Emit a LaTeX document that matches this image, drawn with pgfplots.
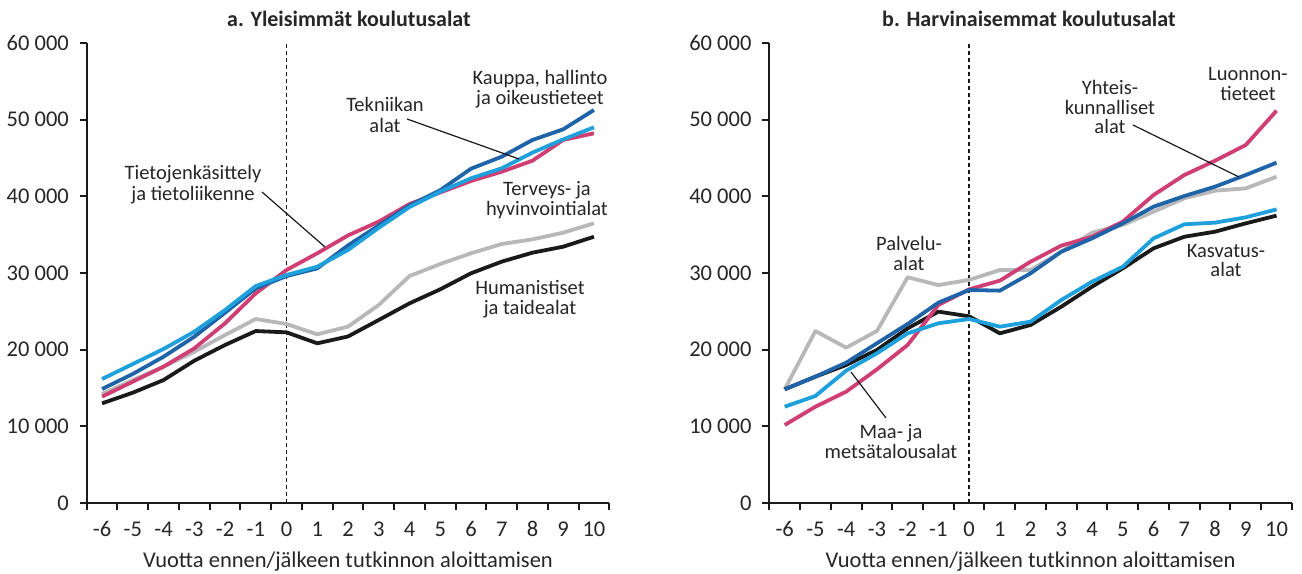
\documentclass[border=0pt]{standalone}
\usepackage{pgfplots}
\pgfplotsset{compat=1.18}
\usepackage{fontspec}
\setmainfont{Carlito}
\newcommand\fs{\fontsize{20.5bp}{20.5bp}\selectfont}
\newcommand\fst{\fontsize{22.5bp}{22.5bp}\selectfont}
\newcommand\fstt{\fontsize{22bp}{22bp}\selectfont\bfseries}
\definecolor{cdblue}{RGB}{31,99,168}
\definecolor{clblue}{RGB}{30,160,220}
\definecolor{cpink}{RGB}{207,63,115}
\definecolor{cgray}{RGB}{184,184,186}
\definecolor{cblack}{RGB}{26,26,26}
\definecolor{ctext}{RGB}{38,38,38}
\pgfplotsset{
  panel/.style={
    scale only axis, width=522.6bp, height=460bp,
    xmin=-6.5, xmax=10.5, ymin=0, ymax=60000,
    axis x line*=bottom, axis y line*=left,
    axis line style={line width=2bp, cblack},
    xtick={-6,...,10},
    xticklabels={-6,-5,-4,-3,-2,-1,0,1,2,3,4,5,6,7,8,9,10},
    minor xtick={-6.5,-5.5,...,10.5},
    major x tick style={draw=none},
    ytick={0,10000,20000,30000,40000,50000,60000},
    yticklabels={0,10 000,20 000,30 000,40 000,50 000,60 000},
    scaled y ticks=false,
    tick align=outside, major tick length=7bp, minor tick length=7bp,
    tick style={line width=2bp, cblack},
    every tick label/.append style={font=\fst, text=ctext},
    xticklabel style={inner sep=0pt, anchor=base, yshift=-26bp},
    yticklabel style={inner sep=0pt, anchor=east, xshift=-10.7bp},
    xlabel={Vuotta ennen/jälkeen tutkinnon aloittamisen},
    xlabel style={at={(axis description cs:0.5,0)}, anchor=base, yshift=-64bp, inner sep=0pt, font=\fst, text=ctext},
    clip=false,
    every axis plot/.append style={line width=3.8bp, line join=round, mark=none},
  }
}
\begin{document}
\begin{tikzpicture}
\path[use as bounding box] (0,0) rectangle (1302bp,574bp);
% ---------- panel a ----------
\begin{axis}[panel, at={(86.7bp,71bp)}, anchor=south west]
\draw[line width=1.3bp, dash pattern=on 4bp off 3bp, cblack] (axis cs:0,0) -- (axis cs:0,60000);
% Terveys- ja hyvinvointialat
\addplot[cgray] coordinates {(-6,14220) (-5,16040) (-4,17780) (-3,19730) (-2,21910) (-1,24000) (0,23350) (1,22000) (2,23000) (3,25830) (4,29600) (5,31170) (6,32570) (7,33780) (8,34390) (9,35260) (10,36480)};
% Humanistiset ja taidealat
\addplot[cblack] coordinates {(-6,13000) (-5,14390) (-4,16040) (-3,18560) (-2,20610) (-1,22430) (0,22260) (1,20830) (2,21720) (3,23870) (4,26040) (5,27870) (6,29960) (7,31480) (8,32650) (9,33430) (10,34730)};
% Tietojenkasittely ja tietoliikenne
\addplot[cpink] coordinates {(-6,13870) (-5,15830) (-4,17780) (-3,20170) (-2,23440) (-1,27350) (0,30390) (1,32570) (2,34900) (3,36700) (4,39000) (5,40500) (6,42000) (7,43210) (8,44650) (9,47350) (10,48220)};
% Kauppa, hallinto ja oikeustieteet
\addplot[cdblue] coordinates {(-6,14870) (-5,16830) (-4,19080) (-3,21690) (-2,24820) (-1,28000) (0,29600) (1,30600) (2,33600) (3,36200) (4,38800) (5,40800) (6,43600) (7,45170) (8,47350) (9,48740) (10,51260)};
% Tekniikan alat
\addplot[clblue] coordinates {(-6,16170) (-5,18130) (-4,20090) (-3,22340) (-2,25170) (-1,28300) (0,29740) (1,30820) (2,33000) (3,35900) (4,38600) (5,40600) (6,42350) (7,43650) (8,45700) (9,47430) (10,49000)};
\end{axis}
% ---------- panel b ----------
\begin{axis}[panel, at={(769.3bp,71bp)}, anchor=south west]
\draw[line width=1.3bp, dash pattern=on 4bp off 3bp, cblack] (axis cs:0,0) -- (axis cs:0,60000);
% Palvelualat
\addplot[cgray] coordinates {(-6,14830) (-5,22430) (-4,20260) (-3,22430) (-2,29440) (-1,28430) (0,29100) (1,30390) (2,30390) (3,32780) (4,35260) (5,36260) (6,38000) (7,39740) (8,40740) (9,41040) (10,42560)};
% Kasvatusalat
\addplot[cblack] coordinates {(-6,14830) (-5,16480) (-4,18000) (-3,19960) (-2,22780) (-1,24960) (0,24350) (1,22130) (2,23220) (3,25610) (4,28220) (5,30610) (6,33220) (7,34730) (8,35390) (9,36480) (10,37480)};
% Luonnontieteet
\addplot[cpink] coordinates {(-6,10170) (-5,12560) (-4,14520) (-3,17430) (-2,20610) (-1,25830) (0,27870) (1,29000) (2,31480) (3,33570) (4,34730) (5,36700) (6,40170) (7,42780) (8,44650) (9,46700) (10,51170)};
% Yhteiskunnalliset alat
\addplot[cdblue] coordinates {(-6,14830) (-5,16480) (-4,18300) (-3,20830) (-2,23350) (-1,26130) (0,27780) (1,27700) (2,29960) (3,32780) (4,34520) (5,36480) (6,38650) (7,40040) (8,41260) (9,42780) (10,44390)};
% Maa- ja metsatalousalat
\addplot[clblue] coordinates {(-6,12560) (-5,13960) (-4,17260) (-3,19520) (-2,22130) (-1,23440) (0,24000) (1,23000) (2,23650) (3,26480) (4,28870) (5,30820) (6,34520) (7,36350) (8,36570) (9,37260) (10,38300)};
\end{axis}
% ---------- titles and labels (image coordinates) ----------
\begin{scope}[shift={(0,574bp)}, x=1bp, y=-1bp, every node/.style={anchor=base, inner sep=0pt, font=\fs, text=ctext}]
\node[font=\fstt, anchor=base west] at (227,26.7) {a. Yleisimmät koulutusalat};
\node[font=\fstt, anchor=base west] at (882,26.7) {b. Harvinaisemmat koulutusalat};
% panel a
\node at (193,179.3) {Tietojenkäsittely};
\node at (193,200.7) {ja tietoliikenne};
\draw[line width=1.2bp, cblack] (262,192) -- (325,247);
\node at (385,111.7) {Tekniikan};
\node at (385,132.3) {alat};
\draw[line width=1.2bp, cblack] (407,119) -- (519,159);
\node at (540,85) {Kauppa, hallinto};
\node at (540,105) {ja oikeustieteet};
\node at (547,196) {Terveys- ja};
\node at (547,216) {hyvinvointialat};
\node at (530,295) {Humanistiset};
\node at (530,315) {ja taidealat};
% panel b
\node at (909,250.7) {Palvelu-};
\node at (909,270.7) {alat};
\node at (1110,95) {Yhteis-};
\node at (1110,114.5) {kunnalliset};
\node at (1110,134) {alat};
\draw[line width=1.2bp, cblack] (1133,125) -- (1239,177);
\node at (1248,80.7) {Luonnon-};
\node at (1248,100.7) {tieteet};
\node at (1226,257.3) {Kasvatus-};
\node at (1226,276.7) {alat};
\node at (891,438.3) {Maa- ja};
\node at (891,459) {metsätalousalat};
\draw[line width=1.2bp, cblack] (886,418) -- (851,372);
\end{scope}
\end{tikzpicture}
\end{document}
